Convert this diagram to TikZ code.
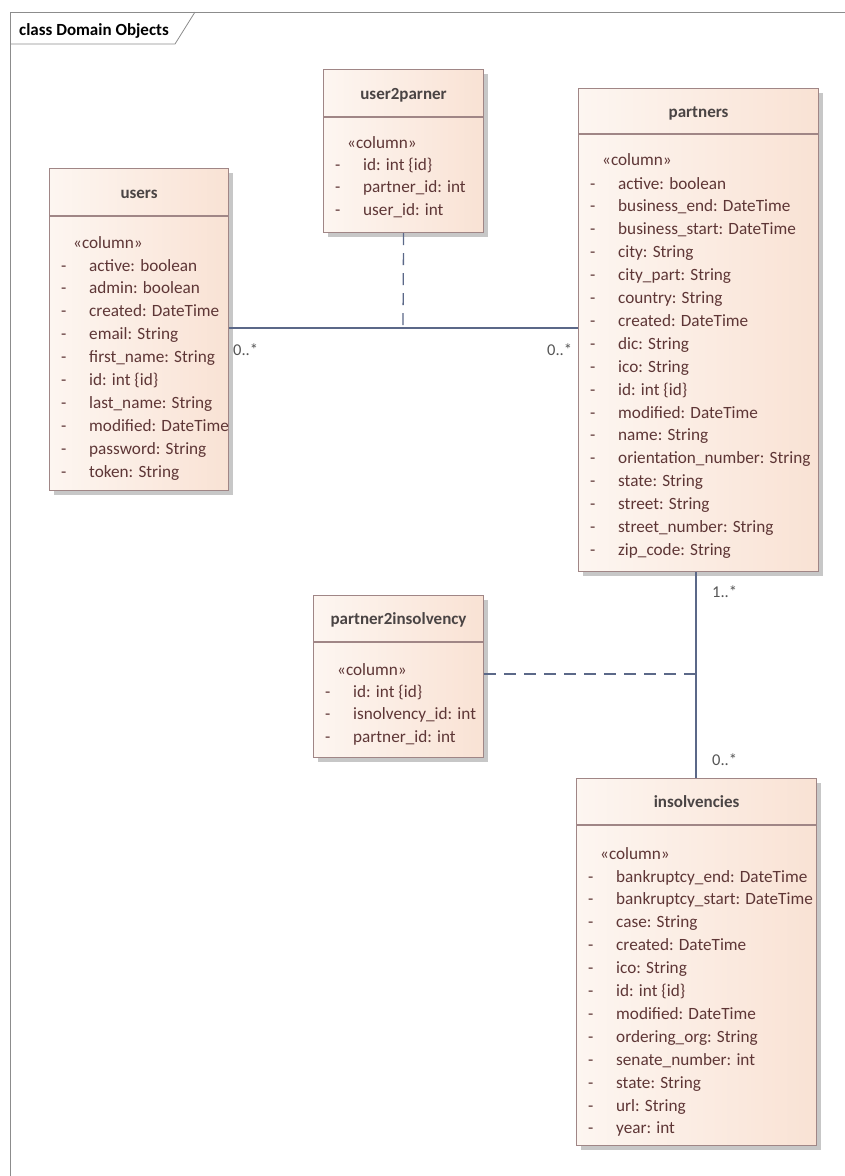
\documentclass[tikz,border=0pt]{standalone}
\usepackage{fontspec}
\setmainfont{Carlito}
\usetikzlibrary{shadows}
\definecolor{boxl}{HTML}{FDF6F1}
\definecolor{boxr}{HTML}{F9E2D4}
\definecolor{boxborder}{HTML}{A08686}
\definecolor{rowtext}{HTML}{5E3636}
\definecolor{titletext}{HTML}{4A4444}
\definecolor{conn}{HTML}{5B6888}
\definecolor{multtext}{HTML}{555555}
\definecolor{framecol}{HTML}{8C8C8C}
\tikzset{
  cbox/.style={draw=boxborder, line width=1.1pt, left color=boxl, right color=boxr, inner sep=0pt,
    drop shadow={shadow xshift=4pt, shadow yshift=-4pt, fill=black, opacity=0.22}},
  cline/.style={draw=boxborder, line width=1.1pt},
  ctitle/.style={font=\fontsize{17}{19}\selectfont\bfseries, text=titletext, inner sep=0pt, anchor=base},
  crow/.style={font=\fontsize{17.2}{19}\selectfont, text=rowtext, inner sep=0pt, anchor=base west},
  conline/.style={draw=conn, line width=1.3pt},
  condash/.style={draw=conn, line width=1.3pt, dash pattern=on 12pt off 8pt},
  mult/.style={font=\fontsize{16.5}{18}\selectfont, text=multtext, inner sep=0pt, anchor=base west},
  frameline/.style={draw=framecol, line width=0.8pt}
}
\newcommand\classbox[7]{%
  \node[cbox, minimum width=#4pt, minimum height=#5pt, anchor=north west] (#1) at (#2,#3) {};
  \draw[cline] ([yshift=-#6pt]#1.north west) -- ([yshift=-#6pt]#1.north east);
  \node[ctitle] (#1-title) at ([yshift={-(#6/2+6)*1pt}]#1.north) {#7};
}
% #1 name, #2 baseline offset of <<column>>, #3 baseline offset of first row, #4 list
\newcommand\classrows[4]{%
  \node[crow] (#1-st) at ([xshift=24pt,yshift={-#2*1pt}]#1.north west) {«column»};
  \foreach \t [count=\i from 0] in {#4} {
    \node[crow] (#1-r\i) at ([xshift=40pt,yshift={-(#3+\i*22.9)*1pt}]#1.north west) {\t};
    \node[crow] (#1-d\i) at ([xshift=12pt,yshift={-(#3+\i*22.9)*1pt}]#1.north west) {-};
  }%
}
\begin{document}
\begin{tikzpicture}[x=1pt,y=-1pt]
\useasboundingbox (0,0) rectangle (845,1176);
\fill[white] (0,0) rectangle (845,1176);

% frame
\draw[frameline] (845,12) -- (10,12) -- (10,1176);
\draw[frameline] (10,44) -- (175,44) -- (195,12);
\node[font=\fontsize{17}{19}\selectfont\bfseries, text=black, inner sep=0pt, anchor=base west] (frametitle) at (19,35) {class Domain Objects};

% classes
\classbox{users}{49}{168}{179}{322}{48}{users}
\classrows{users}{80}{103}{active: boolean, admin: boolean, created: DateTime, email: String, first\_name: String, id: int \{id\}, last\_name: String, modified: DateTime, password: String, token: String}

\classbox{u2p}{323}{69}{160}{163}{48}{user2parner}
\classrows{u2p}{79}{101}{id: int \{id\}, partner\_id: int, user\_id: int}

\classbox{partners}{578}{88}{240}{483}{46}{partners}
\classrows{partners}{77}{101}{active: boolean, business\_end: DateTime, business\_start: DateTime, city: String, city\_part: String, country: String, created: DateTime, dic: String, ico: String, id: int \{id\}, modified: DateTime, name: String, orientation\_number: String, state: String, street: String, street\_number: String, zip\_code: String}

\classbox{p2i}{313}{595}{170}{162}{47}{partner2insolvency}
\classrows{p2i}{80}{102}{id: int \{id\}, isnolvency\_id: int, partner\_id: int}

\classbox{ins}{576}{778}{240}{367}{47}{insolvencies}
\classrows{ins}{81}{104}{bankruptcy\_end: DateTime, bankruptcy\_start: DateTime, case: String, created: DateTime, ico: String, id: int \{id\}, modified: DateTime, ordering\_org: String, senate\_number: int, state: String, url: String, year: int}

% connectors
\coordinate (m1) at (403,328);
\coordinate (m2) at (696,674);
\draw[conline] (users.east |- m1) -- (partners.west |- m1);
\draw[condash] (u2p.south) -- (m1);
\draw[conline] (partners.south -| m2) -- (ins.north -| m2);
\draw[condash] (p2i.east |- m2) -- (m2);

% multiplicities
\node[mult] (mu1) at (233,355) {0..*};
\node[mult] (mu2) at (547,355) {0..*};
\node[mult] (mu3) at (712,597) {1..*};
\node[mult] (mu4) at (712,765) {0..*};
\end{tikzpicture}
\end{document}
